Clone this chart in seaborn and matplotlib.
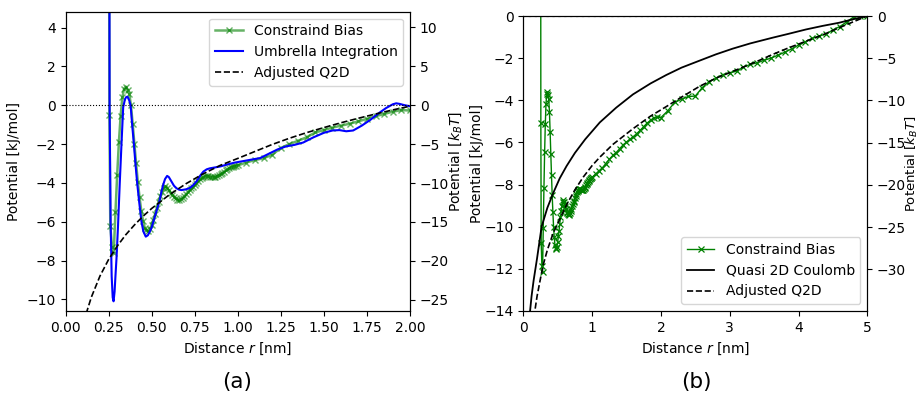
import matplotlib
matplotlib.use("Agg")
import matplotlib.pyplot as plt
import seaborn as sns

# ---------------- data (kJ/mol) ----------------
KBT_FACTOR = 2.494  # right-hand axis scale, as shown in the chart

# Panel (a): Constraint bias
a_cb_r = [0.250, 0.255, 0.260, 0.270, 0.280, 0.290, 0.300, 0.310, 0.320, 0.330,
          0.340, 0.350, 0.360, 0.370, 0.380, 0.390, 0.400, 0.410, 0.420, 0.430,
          0.440, 0.450, 0.460, 0.470, 0.480, 0.490, 0.500, 0.510, 0.520, 0.530,
          0.540, 0.550, 0.560, 0.570, 0.580, 0.590, 0.600, 0.610, 0.620, 0.630,
          0.640, 0.650, 0.660, 0.670, 0.680, 0.690, 0.700, 0.710, 0.720, 0.730,
          0.740, 0.750, 0.760, 0.770, 0.780, 0.790, 0.800, 0.810, 0.820, 0.830,
          0.840, 0.850, 0.860, 0.870, 0.880, 0.890, 0.900, 0.910, 0.920, 0.930,
          0.940, 0.950, 0.960, 0.970, 0.980, 0.990, 1.000,
          1.05, 1.10, 1.15, 1.20, 1.25, 1.30, 1.35, 1.40, 1.45, 1.50,
          1.55, 1.60, 1.65, 1.70, 1.75, 1.80, 1.85, 1.90, 1.95, 2.00]
a_cb_v = [24.0, -0.5, -6.2, -7.3, -7.6, -5.5, -3.6, -1.9, -0.55, 0.4,
          0.85, 0.96, 0.8, 0.6, 0.0, -0.95, -2.0, -3.0, -3.95, -4.75,
          -5.45, -5.95, -6.3, -6.45, -6.5, -6.4, -6.15, -5.9, -5.62, -5.3,
          -5.0, -4.7, -4.45, -4.25, -4.18, -4.25, -4.38, -4.5, -4.62, -4.72,
          -4.8, -4.86, -4.88, -4.85, -4.78, -4.68, -4.58, -4.48, -4.38, -4.28,
          -4.2, -4.1, -4.0, -3.9, -3.8, -3.73, -3.68, -3.66, -3.66, -3.67,
          -3.69, -3.7, -3.7, -3.69, -3.66, -3.6, -3.54, -3.48, -3.42, -3.36,
          -3.3, -3.25, -3.2, -3.16, -3.13, -3.11, -3.1,
          -2.95, -2.82, -2.73, -2.55, -2.2, -2.0, -1.83, -1.65, -1.4, -1.28,
          -1.15, -1.05, -0.95, -0.83, -0.7, -0.56, -0.45, -0.33, -0.25, -0.27]

# Panel (a): Umbrella integration
a_ui_r = [0.252, 0.256, 0.262, 0.268, 0.274, 0.279, 0.285, 0.290, 0.296, 0.305,
          0.315, 0.325, 0.335, 0.345, 0.352, 0.360, 0.370, 0.378, 0.387, 0.397,
          0.406, 0.416, 0.428, 0.441, 0.452, 0.466, 0.478, 0.490, 0.500, 0.510,
          0.520, 0.530, 0.540, 0.548, 0.557, 0.567, 0.578, 0.590, 0.600, 0.616,
          0.630, 0.645, 0.660, 0.674, 0.700, 0.722, 0.740, 0.761, 0.780, 0.800,
          0.820, 0.838, 0.870, 0.900, 0.940, 0.980, 1.030, 1.080, 1.130, 1.180,
          1.230, 1.280, 1.330, 1.380, 1.440, 1.500, 1.550, 1.590, 1.630, 1.670,
          1.720, 1.770, 1.820, 1.860, 1.900, 1.920, 1.940, 1.970, 2.000]
a_ui_v = [30.0, 0.0, -6.0, -8.8, -9.9, -10.1, -9.6, -8.8, -7.9, -6.2,
          -4.0, -2.0, -0.1, 0.3, 0.42, 0.44, 0.25, 0.0, -1.0, -2.0,
          -3.0, -4.0, -5.0, -6.0, -6.5, -6.77, -6.7, -6.5, -6.3, -6.0,
          -5.7, -5.4, -5.1, -4.85, -4.45, -4.1, -3.8, -3.64, -3.7, -3.94,
          -4.15, -4.28, -4.35, -4.37, -4.33, -4.26, -4.13, -3.92, -3.65, -3.42,
          -3.3, -3.25, -3.2, -3.15, -3.05, -2.96, -2.88, -2.8, -2.72, -2.5,
          -2.28, -2.12, -2.04, -1.92, -1.65, -1.42, -1.3, -1.28, -1.34, -1.3,
          -1.05, -0.75, -0.4, -0.15, 0.05, 0.1, 0.07, 0.0, -0.05]

# Panel (a): Adjusted Q2D
a_q2d_r = [0.12, 0.13, 0.15, 0.20, 0.25, 0.30, 0.35, 0.40, 0.45, 0.50, 0.60,
           0.70, 0.80, 0.90, 1.00, 1.10, 1.20, 1.30, 1.40, 1.50, 1.60, 1.70,
           1.80, 1.90, 2.00]
a_q2d_v = [-10.74, -10.45, -9.89, -8.80, -7.95, -7.26, -6.67, -6.17, -5.72, -5.32,
           -4.63, -4.04, -3.53, -3.09, -2.74, -2.38, -2.02, -1.70, -1.41, -1.15,
           -0.90, -0.67, -0.45, -0.24, -0.05]

# Panel (b): Constraint bias
b_cb_r = [0.250, 0.255, 0.260, 0.270, 0.280, 0.290, 0.300, 0.310, 0.320, 0.330,
          0.340, 0.350, 0.360, 0.370, 0.380, 0.390, 0.400, 0.410, 0.420, 0.430,
          0.440, 0.450, 0.460, 0.470, 0.480, 0.490, 0.500, 0.510, 0.520, 0.530,
          0.540, 0.550, 0.560, 0.570, 0.580, 0.590, 0.600, 0.610, 0.620, 0.630,
          0.640, 0.650, 0.660, 0.670, 0.680, 0.690, 0.700, 0.710, 0.720, 0.730,
          0.740, 0.750, 0.760, 0.770, 0.780, 0.790, 0.800, 0.810, 0.820, 0.830,
          0.840, 0.850, 0.860, 0.870, 0.880, 0.890, 0.900, 0.910, 0.920, 0.930,
          0.940, 0.950, 0.960, 0.970, 0.980, 0.990, 1.000,
          1.05, 1.10, 1.15, 1.20, 1.25, 1.30, 1.35, 1.40, 1.45, 1.50,
          1.55, 1.60, 1.65, 1.70, 1.75, 1.80, 1.85, 1.90, 1.95, 2.00,
          2.1, 2.2, 2.3, 2.4, 2.5, 2.6, 2.7, 2.8, 2.9, 3.0,
          3.1, 3.2, 3.3, 3.4, 3.5, 3.6, 3.7, 3.8, 3.9, 4.0,
          4.1, 4.2, 4.3, 4.4, 4.5, 4.6, 4.7, 4.8, 4.9, 5.0]
b_cb_v = [19.44, -5.06, -10.76, -11.86, -12.16, -10.06, -8.16, -6.46, -5.11, -4.16,
          -3.71, -3.6, -3.76, -3.96, -4.56, -5.51, -6.56, -7.56, -8.51, -9.31,
          -10.01, -10.51, -10.86, -11.01, -11.06, -10.96, -10.71, -10.46, -10.18, -9.86,
          -9.56, -9.26, -9.01, -8.81, -8.74, -8.81, -8.94, -9.06, -9.18, -9.28,
          -9.36, -9.42, -9.44, -9.41, -9.34, -9.24, -9.14, -9.04, -8.94, -8.84,
          -8.76, -8.66, -8.56, -8.46, -8.36, -8.29, -8.24, -8.22, -8.22, -8.23,
          -8.25, -8.26, -8.26, -8.25, -8.22, -8.16, -8.1, -8.04, -7.98, -7.92,
          -7.86, -7.81, -7.76, -7.72, -7.69, -7.67, -7.66,
          -7.5, -7.35, -7.2, -7.0, -6.8, -6.62, -6.48, -6.3, -6.12, -5.98,
          -5.85, -5.72, -5.58, -5.42, -5.25, -5.08, -4.95, -4.82, -4.8, -4.82,
          -4.5, -4.1, -3.95, -3.82, -3.8, -3.4, -3.12, -2.95, -2.78, -2.7,
          -2.62, -2.42, -2.3, -2.22, -2.1, -2.0, -1.86, -1.72, -1.56, -1.38,
          -1.22, -1.06, -0.95, -0.86, -0.66, -0.5, -0.28, -0.05, 0.0, 0.0]

# Panel (b): Quasi 2D Coulomb
b_coul_r = [0.09, 0.10, 0.12, 0.15, 0.20, 0.266, 0.35, 0.435, 0.53, 0.629, 0.75,
            0.90, 1.112, 1.35, 1.594, 1.85, 2.078, 2.30, 2.561, 2.80, 3.043,
            3.30, 3.623, 3.85, 4.107, 4.35, 4.59, 4.80, 5.00]
b_coul_v = [-14.3, -13.95, -13.3, -12.55, -11.5, -10.0, -9.1, -8.4, -7.7, -7.12, -6.5,
            -5.85, -5.05, -4.35, -3.72, -3.2, -2.8, -2.45, -2.12, -1.82, -1.55,
            -1.3, -1.03, -0.85, -0.64, -0.47, -0.32, -0.15, 0.0]

# Panel (b): Adjusted Q2D
b_q2d_r = [0.15, 0.17, 0.20, 0.25, 0.29, 0.35, 0.435, 0.50, 0.629, 0.75, 0.87,
           1.00, 1.112, 1.30, 1.594, 1.85, 2.078, 2.30, 2.561, 2.80, 3.14,
           3.40, 3.62, 3.85, 4.107, 4.35, 4.59, 4.80, 5.00]
b_q2d_v = [-14.3, -13.95, -13.3, -12.45, -11.8, -11.1, -10.3, -9.85, -8.96, -8.25, -7.65,
           -7.1, -6.7, -6.1, -5.35, -4.75, -4.3, -3.85, -3.34, -2.95, -2.5,
           -2.15, -1.83, -1.52, -1.2, -0.9, -0.56, -0.27, 0.0]

# ---------------- figure ----------------
plt.rcParams["font.size"] = 10
fig = plt.figure(figsize=(9.2, 3.95), dpi=100)
W, H = 920.0, 395.0

axA = fig.add_axes([65.5 / W, (H - 311) / H, (410 - 65.5) / W, (311 - 11.7) / H])
axB = fig.add_axes([523.3 / W, (H - 311) / H, (867.3 - 523.3) / W, (311 - 16) / H])

GREEN = "green"

# ---- panel (a)
sns.lineplot(x=a_cb_r, y=a_cb_v, ax=axA, color=GREEN, alpha=0.6, lw=1.8,
             marker="x", markersize=5, markeredgecolor=GREEN, markeredgewidth=1.0,
             sort=False, estimator=None, label="Constraind Bias")
sns.lineplot(x=a_ui_r, y=a_ui_v, ax=axA, color="blue", lw=1.5,
             sort=False, estimator=None, label="Umbrella Integration")
sns.lineplot(x=a_q2d_r, y=a_q2d_v, ax=axA, color="black", lw=1.2, linestyle="--",
             sort=False, estimator=None, label="Adjusted Q2D")
axA.axhline(0, color="black", ls=":", lw=0.8)
axA.set_xlim(0, 2)
axA.set_ylim(-10.6, 4.82)
axA.set_xticks([0, 0.25, 0.5, 0.75, 1.0, 1.25, 1.5, 1.75, 2.0])
axA.set_xticklabels(["0.00", "0.25", "0.50", "0.75", "1.00", "1.25", "1.50", "1.75", "2.00"])
axA.set_yticks([-10, -8, -6, -4, -2, 0, 2, 4])
axA.set_xlabel("Distance $r$ [nm]")
axA.set_ylabel("Potential [kJ/mol]")
axA.legend(loc="upper right", fontsize=10)
axA2 = axA.twinx()
lo, hi = axA.get_ylim()
axA2.set_ylim(lo * KBT_FACTOR, hi * KBT_FACTOR)
axA2.set_yticks([-25, -20, -15, -10, -5, 0, 5, 10])
axA2.set_ylabel("Potential [$k_BT$]", labelpad=-1)

# ---- panel (b)
sns.lineplot(x=b_cb_r, y=b_cb_v, ax=axB, color=GREEN, lw=1.0,
             marker="x", markersize=5, markeredgecolor=GREEN, markeredgewidth=0.9,
             sort=False, estimator=None, label="Constraind Bias")
sns.lineplot(x=b_coul_r, y=b_coul_v, ax=axB, color="black", lw=1.3,
             sort=False, estimator=None, label="Quasi 2D Coulomb")
sns.lineplot(x=b_q2d_r, y=b_q2d_v, ax=axB, color="black", lw=1.2, linestyle="--",
             sort=False, estimator=None, label="Adjusted Q2D")
axB.axhline(0, color="0.45", ls=":", lw=1.6)
axB.set_xlim(0, 5)
axB.set_ylim(-14, 0)
axB.set_xticks([0, 1, 2, 3, 4, 5])
axB.set_yticks([-14, -12, -10, -8, -6, -4, -2, 0])
axB.set_xlabel("Distance $r$ [nm]")
axB.set_ylabel("Potential [kJ/mol]", labelpad=0)
axB.legend(loc="lower right", fontsize=10)
axB2 = axB.twinx()
lo, hi = axB.get_ylim()
axB2.set_ylim(lo * KBT_FACTOR, hi * KBT_FACTOR)
axB2.set_yticks([-30, -25, -20, -15, -10, -5, 0])
axB2.set_ylabel("Potential [$k_BT$]", labelpad=-2, fontsize=9.5)

fig.text(237 / W, 1 - 382 / H, "(a)", ha="center", va="center", fontsize=15.5)
fig.text(696 / W, 1 - 382 / H, "(b)", ha="center", va="center", fontsize=15.5)

fig.savefig("out.png", dpi=100)
